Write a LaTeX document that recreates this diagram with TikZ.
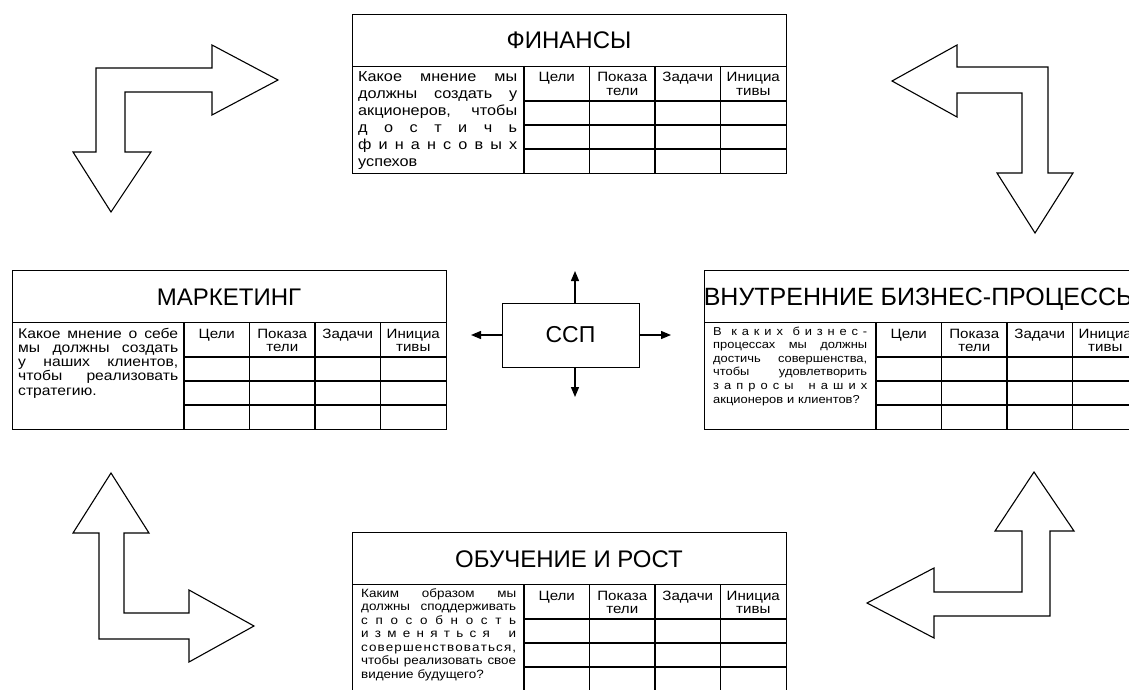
\documentclass[tikz,border=0pt]{standalone}
\usepackage{fontspec}
\setmainfont{Liberation Sans}
\newfontfamily\bodyf[FakeStretch=1.12]{Liberation Sans}
\usetikzlibrary{arrows.meta}
\newcommand{\jl}[1]{\noindent\hbox to \linewidth{#1}\par}
\tikzset{
 panelbox/.style={draw, line width=0.9pt, minimum width=434pt, minimum height=159pt, inner sep=0pt, anchor=north west},
 thinrule/.style={line width=0.8pt},
 gridline/.style={line width=1.3pt},
 titletext/.style={anchor=base, inner sep=0pt, font=\fontsize{24}{28}\selectfont},
 headtext/.style={anchor=base, inner sep=0pt, text width=64pt, align=center, font=\bodyf\fontsize{13.5}{13.5}\selectfont},
 bodytext/.style={anchor=base west, inner sep=0pt},
 blockarrow/.style={draw, line width=1.1pt, line join=miter, fill=white},
 sspbox/.style={draw, line width=0.9pt, minimum width=137pt, minimum height=64pt, inner sep=0pt, font=\fontsize{23}{27}\selectfont},
 sarrow/.style={line width=1.3pt, -{Triangle[width=8pt,length=10pt]}},
}
\newcommand{\bscpanel}[5]{%
\begin{scope}[shift={(#2,#3)}]
\node[panelbox] (#1) at (0,0) {};
\node[titletext] (#1-title) at (217,35) {#4};
\draw[thinrule] (0,52) -- (434,52);
\draw[gridline] (172,52) -- (172,159);
\foreach \yy in {87,111,135} \draw[gridline] (172,\yy) -- (434,\yy);
\foreach \xx in {237.5,303,368.5} \draw[gridline] (\xx,52) -- (\xx,159);
\node[headtext] (#1-h1) at (204.75,68) {Цели};
\node[headtext] (#1-h2) at (270.25,68) {Показа\\тели};
\node[headtext] (#1-h3) at (335.75,68) {Задачи};
\node[headtext] (#1-h4) at (401.25,68) {Инициа\\тивы};
#5
\end{scope}}
\begin{document}
\begin{tikzpicture}[x=1pt,y=-1pt]
\useasboundingbox (0,0) rectangle (1129,690);
\clip (0,0) rectangle (1129,690);
\fill[white] (0,0) rectangle (1129,690);

% block arrows
\draw[blockarrow] (96,68) -- (212,68) -- (212,45) -- (278,80) -- (212,115) -- (212,92) -- (125,92) -- (125,152) -- (151,152) -- (111,212) -- (73,152) -- (96,152) -- cycle;
\draw[blockarrow] (1048,67) -- (957,67) -- (957,45) -- (892,81) -- (957,117) -- (957,93) -- (1022,93) -- (1022,173) -- (997,173) -- (1035,233) -- (1073,173) -- (1048,173) -- cycle;
\draw[blockarrow] (99,639) -- (99,533) -- (73,533) -- (111,473) -- (149,533) -- (124,533) -- (124,613) -- (189,613) -- (189,590) -- (254,626) -- (189,662) -- (189,639) -- cycle;
\draw[blockarrow] (1050,616) -- (1050,531) -- (1074,531) -- (1034,472) -- (995,531) -- (1022,531) -- (1022,592) -- (934,592) -- (934,568) -- (867,603) -- (934,638) -- (934,616) -- cycle;

% panels
\bscpanel{fin}{352}{14}{ФИНАНСЫ}{%
\node[bodytext, text width=159pt, font=\bodyf\fontsize{14.5}{17}\selectfont] (fin-text) at (6,68) {%
\jl{Какое\hfill мнение\hfill мы}%
\jl{должны\hfill создать\hfill у}%
\jl{акционеров,\hfill чтобы}%
\jl{д\hfill о\hfill с\hfill т\hfill и\hfill ч\hfill ь}%
\jl{ф\hfill и\hfill н\hfill а\hfill н\hfill с\hfill о\hfill в\hfill ы\hfill х}%
\noindent успехов};}

\bscpanel{mkt}{12}{270}{МАРКЕТИНГ}{%
\node[bodytext, text width=160pt, font=\bodyf\fontsize{14}{14.3}\selectfont] (mkt-text) at (6,68) {%
\jl{Какое\hfill мнение\hfill о\hfill себе}%
\jl{мы\hfill должны\hfill создать}%
\jl{у\hfill наших\hfill клиентов,}%
\jl{чтобы\hfill реализовать}%
\noindent стратегию.};}

\bscpanel{proc}{704}{270}{{\fontsize{25}{30}\selectfont ВНУТРЕННИЕ БИЗНЕС-ПРОЦЕССЫ}}{%
\node[bodytext, text width=154pt, font=\bodyf\fontsize{11.5}{13.6}\selectfont] (proc-text) at (9,65) {%
\jl{В\hfill\hfill к\hfill а\hfill к\hfill и\hfill х\hfill\hfill б\hfill и\hfill з\hfill н\hfill е\hfill с\hfill -}%
\jl{процессах\hfill мы\hfill должны}%
\jl{достичь\hfill совершенства,}%
\jl{чтобы\hfill удовлетворить}%
\jl{з\hfill а\hfill п\hfill р\hfill о\hfill с\hfill ы\hfill\hfill\hfill н\hfill а\hfill ш\hfill и\hfill х}%
\noindent акционеров и клиентов?};}

\bscpanel{learn}{352}{532}{ОБУЧЕНИЕ И РОСТ}{%
\node[bodytext, text width=155pt, font=\bodyf\fontsize{12}{13.5}\selectfont] (learn-text) at (9,65) {%
\jl{Каким\hfill образом\hfill мы}%
\jl{должны\hfill споддерживать}%
\jl{с\hfill п\hfill о\hfill с\hfill о\hfill б\hfill н\hfill о\hfill с\hfill т\hfill ь}%
\jl{и\hfill з\hfill м\hfill е\hfill н\hfill я\hfill т\hfill ь\hfill с\hfill я\hfill\hfill\hfill и}%
\jl{с\hfill о\hfill в\hfill е\hfill р\hfill ш\hfill е\hfill н\hfill с\hfill т\hfill в\hfill о\hfill в\hfill а\hfill т\hfill ь\hfill с\hfill я\hfill ,}%
\jl{чтобы\hfill реализовать\hfill свое}%
\noindent видение будущего?};}

% centre
\node[sspbox] (ssp) at (570.5,335) {ССП};
\coordinate (ssp-up) at (575,271);
\coordinate (ssp-down) at (575,397);
\coordinate (ssp-left) at (471,335);
\coordinate (ssp-right) at (671,335);
\draw[sarrow] (ssp.north -| ssp-up) -- (ssp-up);
\draw[sarrow] (ssp.south -| ssp-down) -- (ssp-down);
\draw[sarrow] (ssp.west) -- (ssp-left);
\draw[sarrow] (ssp.east) -- (ssp-right);
\end{tikzpicture}
\end{document}
